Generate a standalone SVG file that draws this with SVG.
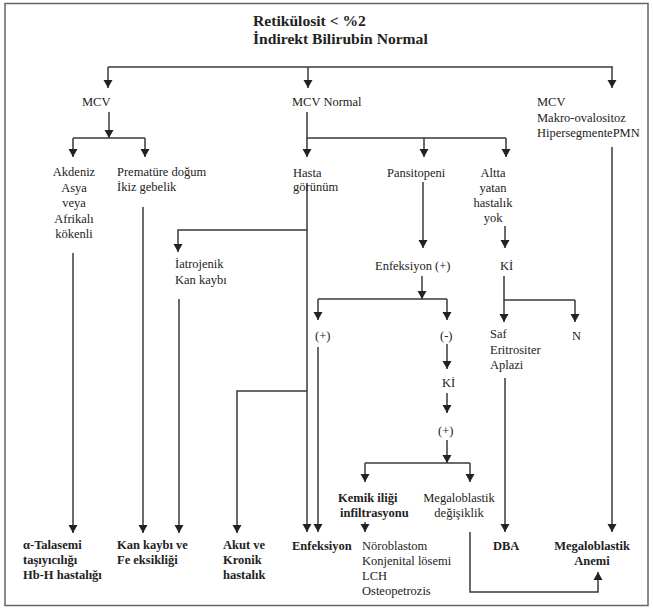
<svg xmlns="http://www.w3.org/2000/svg" width="653" height="611" viewBox="0 0 653 611">
<style>
text{font-family:"Liberation Serif","DejaVu Serif",serif;font-size:12.5px;fill:#222}
.b{font-weight:bold}
.t{font-size:15.6px;font-weight:bold}
.m{text-anchor:middle}
.c{fill:none;stroke:#3a3a3a;stroke-width:1.5}
</style>
<defs>
<marker id="a" markerUnits="userSpaceOnUse" markerWidth="10" markerHeight="10" viewBox="0 0 10 10" refX="9" refY="5" orient="auto">
<path d="M1,0.5 L9,5 L1,9.5 Z" fill="#222"/>
</marker>
</defs>
<rect x="5" y="3.5" width="643" height="602" fill="#fff" stroke="#666" stroke-width="1.5"/>
<g id="connectors">
<path class="c" d="M108,67 H613"/>
<path class="c" marker-end="url(#a)" d="M108,67 V88"/>
<path class="c" marker-end="url(#a)" d="M308,67 V88"/>
<path class="c" marker-end="url(#a)" d="M612,67 V88"/>
<path class="c" marker-end="url(#a)" d="M109,112 V138"/>
<path class="c" d="M73,138 H145"/>
<path class="c" marker-end="url(#a)" d="M73,138 V157"/>
<path class="c" marker-end="url(#a)" d="M145,138 V157"/>
<path class="c" d="M307,112 V138 H506"/>
<path class="c" marker-end="url(#a)" d="M307,138 V157"/>
<path class="c" marker-end="url(#a)" d="M424,138 V157"/>
<path class="c" marker-end="url(#a)" d="M506,138 V157"/>
<path class="c" marker-end="url(#a)" d="M612,147 V532"/>
<path class="c" marker-end="url(#a)" d="M73,253 V533"/>
<path class="c" marker-end="url(#a)" d="M143,207 V533"/>
<path class="c" marker-end="url(#a)" d="M307,230 H178 V252"/>
<path class="c" marker-end="url(#a)" d="M179,299 V533"/>
<path class="c" marker-end="url(#a)" d="M307,183 V532"/>
<path class="c" marker-end="url(#a)" d="M307,391 H237 V533"/>
<path class="c" marker-end="url(#a)" d="M423,182 V248"/>
<path class="c" marker-end="url(#a)" d="M422,276 V299"/>
<path class="c" d="M318,299 H447"/>
<path class="c" marker-end="url(#a)" d="M318,299 V320"/>
<path class="c" marker-end="url(#a)" d="M447,299 V320"/>
<path class="c" marker-end="url(#a)" d="M318,347 V532"/>
<path class="c" marker-end="url(#a)" d="M447,344 V369"/>
<path class="c" marker-end="url(#a)" d="M447,393 V413"/>
<path class="c" marker-end="url(#a)" d="M447,440 V463"/>
<path class="c" d="M365,463 H470"/>
<path class="c" marker-end="url(#a)" d="M365,463 V482"/>
<path class="c" marker-end="url(#a)" d="M470,463 V482"/>
<path class="c" marker-end="url(#a)" d="M365,522 V532"/>
<path class="c" marker-end="url(#a)" d="M505,226 V248"/>
<path class="c" d="M504,276 V300 H575"/>
<path class="c" marker-end="url(#a)" d="M504,300 V322"/>
<path class="c" marker-end="url(#a)" d="M575,300 V322"/>
<path class="c" marker-end="url(#a)" d="M505,378 V532"/>
<path class="c" marker-end="url(#a)" d="M470,532 V592 H598 V572"/>
</g>
<g id="title"><text class="t" x="253" y="26">Retikülosit  &lt; %2</text><text class="t" x="253" y="44">İndirekt Bilirubin Normal</text></g>
<g id="mcv-low"><text x="82" y="106">MCV</text></g>
<g id="mcv-normal"><text x="292" y="106">MCV Normal</text></g>
<g id="mcv-high"><text x="537" y="106">MCV</text><text x="537" y="122">Makro-ovalositoz</text><text x="537" y="137">HipersegmentePMN</text></g>
<g id="akdeniz"><text class="m" x="74" y="176">Akdeniz</text><text class="m" x="74" y="191.5">Asya</text><text class="m" x="74" y="207">veya</text><text class="m" x="74" y="222.5">Afrikalı</text><text class="m" x="74" y="238">kökenli</text></g>
<g id="prematur"><text x="117" y="176">Prematüre doğum</text><text x="117" y="191">İkiz gebelik</text></g>
<g id="hasta"><text x="293" y="177">Hasta</text><text x="293" y="191">görünüm</text></g>
<g id="pansitopeni"><text x="387" y="177">Pansitopeni</text></g>
<g id="altta"><text class="m" x="493" y="177">Altta</text><text class="m" x="493" y="192">yatan</text><text class="m" x="493" y="207">hastalık</text><text class="m" x="493" y="222">yok</text></g>
<g id="iatrojenik"><text x="175" y="268">İatrojenik</text><text x="175" y="284">Kan kaybı</text></g>
<g id="enf-pos"><text x="375" y="270">Enfeksiyon (+)</text></g>
<g id="ki1"><text x="500" y="270">Kİ</text></g>
<g id="plus1"><text x="315" y="340">(+)</text></g>
<g id="minus"><text x="440" y="340">(-)</text></g>
<g id="saf"><text x="490" y="338">Saf</text><text x="490" y="354">Eritrositer</text><text x="490" y="369">Aplazi</text></g>
<g id="n"><text x="572" y="340">N</text></g>
<g id="ki2"><text x="442" y="387">Kİ</text></g>
<g id="plus2"><text x="438" y="435">(+)</text></g>
<g id="kemik"><text class="b" x="338" y="502">Kemik iliği</text><text class="b" x="340" y="517">infiltrasyonu</text></g>
<g id="megdeg"><text class="m" x="459" y="502">Megaloblastik</text><text class="m" x="459" y="517">değişiklik</text></g>
<g id="talasemi"><text class="b" x="23" y="549">α-Talasemi</text><text class="b" x="23" y="564">taşıyıcılığı</text><text class="b" x="23" y="579">Hb-H hastalığı</text></g>
<g id="kankaybi"><text class="b" x="117" y="549">Kan kaybı ve</text><text class="b" x="117" y="564">Fe eksikliği</text></g>
<g id="akut"><text class="b" x="223" y="549">Akut ve</text><text class="b" x="223" y="564">Kronik</text><text class="b" x="223" y="579">hastalık</text></g>
<g id="enfeksiyon"><text class="b" x="292" y="550">Enfeksiyon</text></g>
<g id="noroblastom"><text x="362" y="550">Nöroblastom</text><text x="362" y="565">Konjenital lösemi</text><text x="362" y="580">LCH</text><text x="362" y="595">Osteopetrozis</text></g>
<g id="dba"><text class="b" x="493" y="550">DBA</text></g>
<g id="meganemi"><text class="b m" x="592" y="550">Megaloblastik</text><text class="b m" x="592" y="565">Anemi</text></g>
</svg>
